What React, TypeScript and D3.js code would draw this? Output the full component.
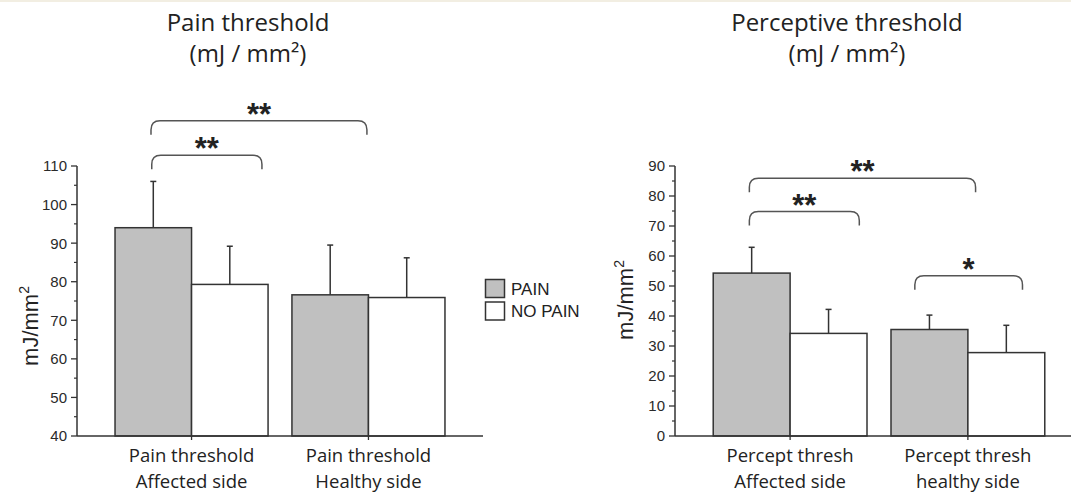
import React from "react";
import * as d3 from "d3";

// ---------- DATA ----------
const series = ["PAIN", "NO PAIN"];
const seriesFill = ["#c0c0c0", "#ffffff"];

const leftCategories = [["Pain threshold", "Affected side"], ["Pain threshold", "Healthy side"]];
const leftMeans = [[94, 79.3], [76.6, 75.9]]; // [group][series]
const leftErrTop = [[106, 89.2], [89.5, 86.2]];
const leftTicks = [40, 50, 60, 70, 80, 90, 100, 110];
// brackets: [group, frac, group, frac, level(value), label]
const leftBrackets: [number, number, number, number, number, string][] = [
  [0, 0.235, 1, 0.49, 121.7, "**"],
  [0, 0.24, 0, 0.96, 112.8, "**"],
];

const rightCategories = [["Percept thresh", "Affected side"], ["Percept thresh", "healthy side"]];
const rightMeans = [[54.3, 34.2], [35.5, 27.8]];
const rightErrTop = [[62.9, 42.2], [40.3, 36.9]];
const rightTicks = [0, 10, 20, 30, 40, 50, 60, 70, 80, 90];
const rightBrackets: [number, number, number, number, number, string][] = [
  [0, 0.235, 1, 0.55, 85.9, "**"],
  [0, 0.235, 0, 0.95, 74.8, "**"],
  [1, 0.155, 1, 0.855, 53.4, "*"],
];

const titleLeft = ["Pain threshold", "(mJ / mm²)"];
const titleRight = ["Perceptive threshold", "(mJ / mm²)"];
const yLabel = "mJ/mm";

const W = 1071;
const H = 494;
const INK = "#333";
const TXT_FONT = "'Open Sans', sans-serif";
const AX_FONT = "'Liberation Sans', Arial, sans-serif";

type PanelProps = {
  categories: string[][];
  means: number[][];
  errTop: number[][];
  ticks: number[];
  domain: [number, number];
  xRange: [number, number];
  axisEnd: number;
  brackets: [number, number, number, number, number, string][];
  title: string[];
  titleX: number;
  yLabelX: number;
  yLabelY: number;
};

function Panel(p: PanelProps) {
  const y = d3.scaleLinear().domain(p.domain).range([436, 166]);
  const x0 = d3
    .scaleBand<number>()
    .domain(p.categories.map((_, i) => i))
    .range(p.xRange)
    .paddingInner(0.135)
    .paddingOuter(0.215);
  const x1 = d3.scaleBand<number>().domain([0, 1]).range([0, x0.bandwidth()]);
  const axX = p.xRange[0];
  const base = y(p.domain[0]);
  const step = p.ticks[1] - p.ticks[0];
  const minor = p.ticks.slice(0, -1).map((t) => t + step / 2);
  const bx = (g: number, f: number) => (x0(g) as number) + f * x0.bandwidth();
  const drop = 14;
  const r = 9;
  return (
    <g>
      {p.title.map((t, i) => (
        <text
          key={i}
          x={p.titleX}
          y={31 + i * 31}
          textAnchor="middle"
          fontFamily={TXT_FONT}
          fontSize={24}
          fill="#222"
        >
          {t}
        </text>
      ))}
      {/* y axis */}
      <line x1={axX} x2={axX} y1={y(p.domain[1])} y2={base} stroke={INK} strokeWidth={1.5} />
      {p.ticks.map((t) => (
        <g key={t}>
          <line x1={axX - 6} x2={axX} y1={y(t)} y2={y(t)} stroke={INK} strokeWidth={1.3} />
          <text
            x={axX - 10}
            y={y(t)}
            dy="0.36em"
            textAnchor="end"
            fontFamily={AX_FONT}
            fontSize={15}
            fill="#2a2a2a"
          >
            {t}
          </text>
        </g>
      ))}
      {minor.map((t) => (
        <line key={t} x1={axX - 3} x2={axX} y1={y(t)} y2={y(t)} stroke={INK} strokeWidth={1.2} />
      ))}
      <text
        transform={`translate(${p.yLabelX},${p.yLabelY}) rotate(-90)`}
        textAnchor="middle"
        fontFamily={AX_FONT}
        fontSize={22}
        fill="#222"
      >
        {yLabel}
        <tspan fontSize={14} dy={-9}>2</tspan>
      </text>
      {/* bars */}
      {p.means.map((grp, g) =>
        grp.map((v, s) => {
          const bx0 = (x0(g) as number) + (x1(s) as number);
          const cx = bx0 + x1.bandwidth() / 2;
          return (
            <g key={`${g}-${s}`}>
              <line x1={cx} x2={cx} y1={y(v)} y2={y(p.errTop[g][s])} stroke={INK} strokeWidth={1.5} />
              <line x1={cx - 3} x2={cx + 3} y1={y(p.errTop[g][s])} y2={y(p.errTop[g][s])} stroke={INK} strokeWidth={1.5} />
              <rect
                x={bx0}
                y={y(v)}
                width={x1.bandwidth()}
                height={base - y(v)}
                fill={seriesFill[s]}
                stroke={INK}
                strokeWidth={1.5}
              />
            </g>
          );
        })
      )}
      {/* x axis */}
      <line x1={axX} x2={p.axisEnd} y1={base} y2={base} stroke={INK} strokeWidth={1.5} />
      {p.categories.map((c, g) => {
        const cx = (x0(g) as number) + x0.bandwidth() / 2;
        return (
          <g key={g}>
            <line x1={cx} x2={cx} y1={base} y2={base + 4} stroke={INK} strokeWidth={1.3} />
            {c.map((t, i) => (
              <text
                key={i}
                x={cx}
                y={462 + i * 25.5}
                textAnchor="middle"
                fontFamily={TXT_FONT}
                fontSize={18.5}
                fill="#222"
              >
                {t}
              </text>
            ))}
          </g>
        );
      })}
      {/* brackets */}
      {p.brackets.map(([g1, f1, g2, f2, lvl, lab], i) => {
        const xa = bx(g1, f1);
        const xb = bx(g2, f2);
        const yy = y(lvl);
        const d = `M${xa},${yy + drop} L${xa},${yy + r} Q${xa},${yy} ${xa + r},${yy} L${xb - r},${yy} Q${xb},${yy} ${xb},${yy + r} L${xb},${yy + drop}`;
        return (
          <g key={i}>
            <path d={d} fill="none" stroke="#555" strokeWidth={1.5} />
            <text
              x={(xa + xb) / 2}
              y={yy + 4}
              textAnchor="middle"
              fontFamily={AX_FONT}
              fontSize={31}
              fontWeight="bold"
              fill="#222"
            >
              {lab}
            </text>
          </g>
        );
      })}
    </g>
  );
}

export default function App() {
  return (
    <svg
      width={W}
      height={H}
      style={{ position: "absolute", left: 0, top: 0, background: "#fff" }}
    >
      <rect x={0} y={0} width={W} height={2} fill="#f2eee2" />
      <Panel
        categories={leftCategories}
        means={leftMeans}
        errTop={leftErrTop}
        ticks={leftTicks}
        domain={[40, 110]}
        xRange={[77, 483]}
        axisEnd={483}
        brackets={leftBrackets}
        title={titleLeft}
        titleX={248}
        yLabelX={38}
        yLabelY={326}
      />
      <Panel
        categories={rightCategories}
        means={rightMeans}
        errTop={rightErrTop}
        ticks={rightTicks}
        domain={[0, 90]}
        xRange={[675, 1083]}
        axisEnd={1071}
        brackets={rightBrackets}
        title={titleRight}
        titleX={847}
        yLabelX={633}
        yLabelY={300}
      />
      {/* legend */}
      {series.map((s, i) => (
        <g key={s}>
          <rect x={485.5} y={279.5 + i * 22.5} width={19} height={18} fill={seriesFill[i]} stroke={INK} strokeWidth={1.5} />
          <text x={511} y={288.5 + i * 22.5} dy="0.36em" fontFamily={AX_FONT} fontSize={17} fill="#222">
            {s}
          </text>
        </g>
      ))}
    </svg>
  );
}
